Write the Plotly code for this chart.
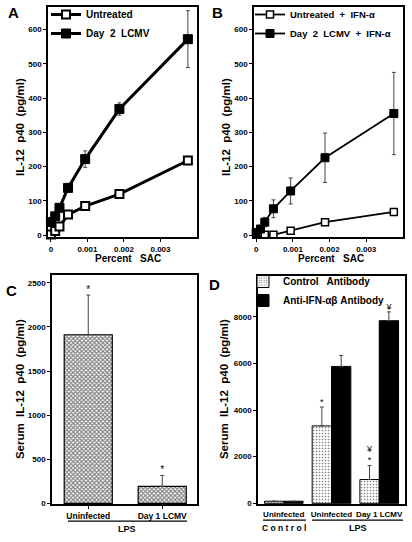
import plotly.graph_objects as go

# ---------------- data ----------------
sac_pct = [0, 0.000117, 0.000234, 0.000469, 0.000938, 0.001875, 0.00375]

a_untreated = [2, 12, 25, 60, 85, 120, 218]
a_untreated_err = [2, 3, 3, 4, 4, 5, 12]
a_lcmv = [38, 55, 80, 138, 222, 368, 572]
a_lcmv_err = [5, 6, 8, 12, 24, 18, 83]

b_untreated = [5, 5, 1, 1, 13, 38, 68]
b_untreated_err = [2, 2, 1, 1, 3, 4, 5]
b_lcmv = [8, 18, 38, 77, 129, 226, 355]
b_lcmv_err = [4, 6, 14, 26, 38, 72, 120]

c_categories = ["Uninfected", "Day 1 LCMV"]
c_values = [1912, 192]
c_err = [450, 125]
c_marks = ["*", "*"]

d_ticktext = ["Uninfected", "Uninfected", "Day 1 LCMV"]
d_pos = [0, 1, 2]
d_control = [90, 3320, 1020]
d_control_err = [0, 810, 600]
d_control_marks = ["", "*", "¥<br>*"]
d_anti = [90, 5870, 7830]
d_anti_err = [0, 470, 380]
d_anti_marks = ["", "", "¥"]

FONT = "Liberation Sans, Arial, sans-serif"
W, H = 412, 542

fig = go.Figure()

# ---------------- panel A ----------------
fig.add_trace(go.Scatter(
    x=sac_pct, y=a_untreated, name="Untreated", mode="lines+markers",
    line=dict(color="black", width=3),
    marker=dict(symbol="square", size=8, color="white", line=dict(color="black", width=2)),
    error_y=dict(type="data", array=a_untreated_err, color="#444", thickness=1, width=2),
    xaxis="x", yaxis="y", legend="legend", cliponaxis=False))
fig.add_trace(go.Scatter(
    x=sac_pct, y=a_lcmv, name="Day  2  LCMV", mode="lines+markers",
    line=dict(color="black", width=3),
    marker=dict(symbol="square", size=9, color="black", line=dict(color="black", width=1)),
    error_y=dict(type="data", array=a_lcmv_err, color="#444", thickness=1, width=2),
    xaxis="x", yaxis="y", legend="legend", cliponaxis=False))

# ---------------- panel B ----------------
fig.add_trace(go.Scatter(
    x=sac_pct, y=b_untreated, name="Untreated  +  IFN-α", mode="lines+markers",
    line=dict(color="black", width=1.8),
    marker=dict(symbol="square", size=7, color="white", line=dict(color="black", width=1.5)),
    error_y=dict(type="data", array=b_untreated_err, color="#444", thickness=1, width=2),
    xaxis="x2", yaxis="y2", legend="legend2", cliponaxis=False))
fig.add_trace(go.Scatter(
    x=sac_pct, y=b_lcmv, name="Day  2  LCMV  +  IFN-α", mode="lines+markers",
    line=dict(color="black", width=1.8),
    marker=dict(symbol="square", size=8, color="black", line=dict(color="black", width=1)),
    error_y=dict(type="data", array=b_lcmv_err, color="#444", thickness=1, width=2),
    xaxis="x2", yaxis="y2", legend="legend2", cliponaxis=False))

# ---------------- panel C ----------------
fig.add_trace(go.Bar(
    x=c_categories, y=c_values, width=0.65,
    marker=dict(color="white", line=dict(color="black", width=1.2),
                pattern=dict(shape="x", size=3, solidity=0.6, fgcolor="black", bgcolor="white")),
    error_y=dict(type="data", array=c_err, arrayminus=[0, 0], symmetric=False,
                 color="#444", thickness=1, width=2),
    xaxis="x3", yaxis="y3", showlegend=False))
fig.add_trace(go.Scatter(
    x=c_categories, y=[v + e for v, e in zip(c_values, c_err)], text=c_marks,
    mode="text", textposition="top center",
    textfont=dict(family=FONT, size=10, color="black"),
    xaxis="x3", yaxis="y3", showlegend=False, cliponaxis=False))

# ---------------- panel D ----------------
half = 0.405
fig.add_trace(go.Bar(
    x=d_pos, y=d_control, name="Control   Antibody", offset=-half, width=half,
    marker=dict(color="white", line=dict(color="black", width=1),
                pattern=dict(shape=".", size=3, solidity=0.25, fgcolor="black", bgcolor="white")),
    error_y=dict(type="data", array=d_control_err, arrayminus=[0, 0, 0], symmetric=False,
                 color="#444", thickness=1, width=2),
    xaxis="x4", yaxis="y4", legend="legend3"))
fig.add_trace(go.Bar(
    x=d_pos, y=d_anti, name="Anti-IFN-αβ Antibody", offset=0, width=half,
    marker=dict(color="black", line=dict(color="black", width=1)),
    error_y=dict(type="data", array=d_anti_err, arrayminus=[0, 0, 0], symmetric=False,
                 color="#444", thickness=1, width=2),
    xaxis="x4", yaxis="y4", legend="legend3"))
fig.add_trace(go.Scatter(
    x=[p - half / 2 for p in d_pos], y=[v + e for v, e in zip(d_control, d_control_err)],
    text=d_control_marks, mode="text", textposition="top center",
    textfont=dict(family=FONT, size=9, color="black"),
    xaxis="x4", yaxis="y4", showlegend=False, cliponaxis=False))
fig.add_trace(go.Scatter(
    x=[p + half / 2 for p in d_pos], y=[v + e for v, e in zip(d_anti, d_anti_err)],
    text=d_anti_marks, mode="text", textposition="top center",
    textfont=dict(family=FONT, size=9, color="black"),
    xaxis="x4", yaxis="y4", showlegend=False, cliponaxis=False))

# ---------------- axes ----------------
def px_x(p):
    return p / W

def px_y(p):
    return 1 - p / H

tickfont = dict(family=FONT, size=8, color="black", weight="bold")
axis_common = dict(showline=True, linecolor="black", linewidth=1.5, mirror=True,
                   showgrid=False, zeroline=False, ticks="outside", ticklen=3,
                   tickcolor="black", tickwidth=1, tickfont=tickfont)

sac_ticks = [0, 0.001, 0.002, 0.003]
sac_ticktext = ["0", "0.001", "0.002", "0.003"]

fig.update_layout(
    width=W, height=H, margin=dict(l=0, r=0, t=0, b=0),
    paper_bgcolor="white", plot_bgcolor="white",
    font=dict(family=FONT, color="black"),
    barmode="overlay",
    xaxis=dict(domain=[px_x(48), px_x(197)], range=[-0.00008, 0.004], anchor="y",
               tickvals=sac_ticks, ticktext=sac_ticktext, **axis_common),
    yaxis=dict(domain=[px_y(239), px_y(7)], range=[-6, 666], anchor="x",
               tickvals=[0, 100, 200, 300, 400, 500, 600], **axis_common),
    xaxis2=dict(domain=[px_x(254), px_x(403)], range=[-0.00006, 0.004], anchor="y2",
                tickvals=sac_ticks, ticktext=sac_ticktext, **axis_common),
    yaxis2=dict(domain=[px_y(239), px_y(7)], range=[-6, 666], anchor="x2",
                tickvals=[0, 100, 200, 300, 400, 500, 600], **axis_common),
    xaxis3=dict(domain=[px_x(52), px_x(197)], range=[-0.49, 1.47], anchor="y3",
                **{**axis_common, "tickfont": dict(family=FONT, size=8.5, color="black", weight="bold")}),
    yaxis3=dict(domain=[px_y(508), px_y(277)], range=[-10, 2590], anchor="x3",
                tickvals=[0, 500, 1000, 1500, 2000, 2500], tickformat="d", **axis_common),
    xaxis4=dict(domain=[px_x(258), px_x(405)], range=[-0.54, 2.54], anchor="y4",
                tickvals=d_pos, ticktext=d_ticktext, ticklabelstandoff=1,
                **{**axis_common, "ticks": "", "tickfont": dict(family=FONT, size=8, color="black", weight="bold")}),
    yaxis4=dict(domain=[px_y(508), px_y(278)], range=[-40, 9750], anchor="x4",
                tickvals=[0, 2000, 4000, 6000, 8000], tickformat="d", **axis_common),
    legend=dict(x=px_x(46), y=px_y(0), xanchor="left", yanchor="top",
                bgcolor="rgba(0,0,0,0)", tracegroupgap=0, itemwidth=30,
                font=dict(family=FONT, size=10, color="black", weight="bold")),
    legend2=dict(x=px_x(250), y=px_y(0), xanchor="left", yanchor="top",
                 bgcolor="rgba(0,0,0,0)", tracegroupgap=0, itemwidth=30,
                 font=dict(family=FONT, size=9.5, color="black", weight="bold")),
    legend3=dict(x=px_x(243), y=px_y(269), xanchor="left", yanchor="top",
                 bgcolor="rgba(0,0,0,0)", tracegroupgap=0, itemwidth=30,
                 font=dict(family=FONT, size=10, color="black", weight="bold")),
)

ann = []
def label(text, x, y, size, angle=0, xanchor="center", yanchor="middle"):
    ann.append(dict(text=text, x=px_x(x), y=px_y(y), xref="paper", yref="paper",
                    showarrow=False, textangle=angle, xanchor=xanchor, yanchor=yanchor,
                    font=dict(family=FONT, size=size, color="black", weight="bold")))

# panel letters
label("A", 13, 13, 15)
label("B", 217, 13, 15)
label("C", 11, 293, 15)
label("D", 214, 287, 15)
# axis titles
label("IL-12  p40  (pg/ml)", 20, 128, 11.5, angle=-90)
label("IL-12  p40  (pg/ml)", 226, 128, 11.5, angle=-90)
label("Percent   SAC", 128, 260, 10)
label("Percent   SAC", 331, 260, 10)
label("Serum  IL-12  p40  (pg/ml)", 20, 392, 11.5, angle=-90)
label("Serum  IL-12  p40  (pg/ml)", 224, 392, 11.5, angle=-90)
# group labels
label("LPS", 127, 533, 9)
label("C o n t r o l", 284, 532, 8.5)
label("LPS", 358, 532, 9)
fig.update_layout(annotations=ann)

fig.update_layout(shapes=[
    dict(type="line", xref="paper", yref="paper", x0=px_x(68), x1=px_x(187),
         y0=px_y(525), y1=px_y(525), line=dict(color="black", width=1.2)),
    dict(type="line", xref="paper", yref="paper", x0=px_x(263), x1=px_x(306),
         y0=px_y(524), y1=px_y(524), line=dict(color="black", width=1.2)),
    dict(type="line", xref="paper", yref="paper", x0=px_x(312), x1=px_x(403),
         y0=px_y(524), y1=px_y(524), line=dict(color="black", width=1.2)),
])

fig.write_html(
    "out.html",
    config={"displayModeBar": False},
    post_script="document.body.style.margin='0';document.body.style.padding='0';"
                "document.body.style.overflow='hidden';",
)
